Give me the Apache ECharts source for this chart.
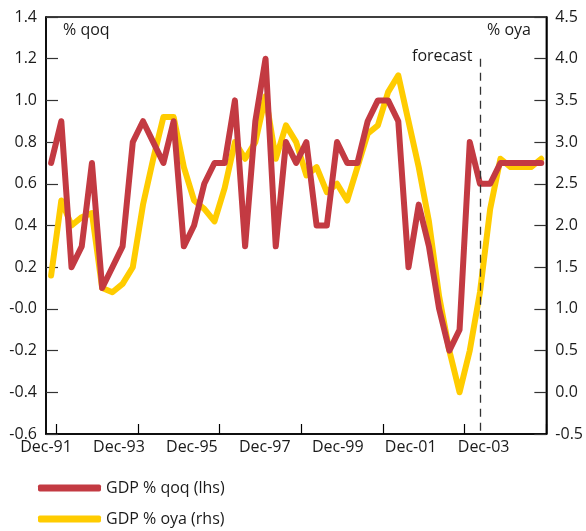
<!DOCTYPE html>
<html>
<head>
<meta charset="utf-8">
<script src="https://cdn.jsdelivr.net/npm/echarts@6/dist/echarts.min.js"></script>
<style>
  html, body { margin: 0; padding: 0; background: #fff; }
  #chart { width: 586px; height: 531px; }
</style>
</head>
<body>
<div id="chart"></div>
<script>
// Quarterly periods, Dec-91 to Dec-03
const quarters = ['Dec-91','Mar-92','Jun-92','Sep-92','Dec-92','Mar-93','Jun-93','Sep-93',
  'Dec-93','Mar-94','Jun-94','Sep-94','Dec-94','Mar-95','Jun-95','Sep-95',
  'Dec-95','Mar-96','Jun-96','Sep-96','Dec-96','Mar-97','Jun-97','Sep-97',
  'Dec-97','Mar-98','Jun-98','Sep-98','Dec-98','Mar-99','Jun-99','Sep-99',
  'Dec-99','Mar-00','Jun-00','Sep-00','Dec-00','Mar-01','Jun-01','Sep-01',
  'Dec-01','Mar-02','Jun-02','Sep-02','Dec-02','Mar-03','Jun-03','Sep-03','Dec-03'];

// GDP % q/q (left axis)
const gdpQoq = [0.7,0.9,0.2,0.3,0.7,0.1,0.2,0.3,0.8,0.9,
  0.8,0.7,0.9,0.3,0.4,0.6,0.7,0.7,1.0,0.3,
  0.9,1.2,0.3,0.8,0.7,0.8,0.4,0.4,0.8,0.7,
  0.7,0.9,1.0,1.0,0.9,0.2,0.5,0.3,0.0,-0.2,
  -0.1,0.8,0.6,0.6,0.7,0.7,0.7,0.7,0.7];

// GDP % over year ago (right axis)
const gdpOya = [1.4,2.3,2.0,2.1,2.15,1.25,1.2,1.3,1.5,2.25,
  2.8,3.3,3.3,2.7,2.3,2.2,2.05,2.45,3.0,2.8,
  3.0,3.55,2.8,3.2,3.0,2.6,2.7,2.4,2.5,2.3,
  2.7,3.1,3.2,3.6,3.8,3.25,2.7,2.05,1.15,0.5,
  0.0,0.5,1.2,2.2,2.8,2.7,2.7,2.7,2.8];

// Bottom axis labels
const xLabels = ['Dec-91','Dec-93','Dec-95','Dec-97','Dec-99','Dec-01','Dec-03'];

const forecastStart = 'Jun-02';

const FONT = '"Open Sans", "DejaVu Sans", sans-serif';
const TXT = '#1a1a1a';
const RED = '#C33A42';
const YELLOW = '#FFCC00';

const chart = echarts.init(document.getElementById('chart'), null, { renderer: 'canvas' });

chart.setOption({
  animation: false,
  backgroundColor: '#fff',
  textStyle: { fontFamily: FONT },
  grid: {
    left: 46, right: 37, top: 17, bottom: 97,
    show: true, borderColor: '#000', borderWidth: 1.5, backgroundColor: 'transparent'
  },
  legend: {
    orient: 'vertical',
    left: 38, top: 480,
    padding: 0,
    itemWidth: 63, itemHeight: 7, itemGap: 15,
    icon: 'roundRect',
    data: ['GDP % qoq (lhs)', 'GDP % oya (rhs)'],
    textStyle: { fontFamily: FONT, fontSize: 16, color: TXT, lineHeight: 16 },
    selectedMode: false
  },
  xAxis: [
    {
      type: 'category',
      data: quarters,
      boundaryGap: true,
      position: 'bottom',
      axisLine: { show: true, onZero: false, lineStyle: { color: '#000', width: 1.5 } },
      axisTick: {
        show: true, inside: true, length: 10,
        interval: (i) => i % 8 === 1,
        lineStyle: { color: '#000', width: 1.2 }
      },
      axisLabel: { show: false },
      splitLine: { show: false }
    },
    {
      type: 'value',
      position: 'bottom',
      min: 0, max: 6.86, interval: 1,
      axisLine: { show: false, onZero: false },
      axisTick: { show: false },
      splitLine: { show: false },
      axisLabel: {
        show: true, margin: 5,
        fontFamily: FONT, fontSize: 16, color: TXT,
        showMinLabel: true, showMaxLabel: true,
        formatter: (v) => {
          const k = Math.round(v);
          return Math.abs(v - k) < 1e-6 && xLabels[k] ? xLabels[k] : '';
        }
      }
    }
  ],
  yAxis: [
    {
      type: 'value', position: 'left',
      min: -0.6, max: 1.4, interval: 0.2,
      axisLine: { show: true, onZero: false, lineStyle: { color: '#000', width: 1.5 } },
      axisTick: { show: true, inside: true, length: 12, lineStyle: { color: '#333', width: 1.2 } },
      splitLine: { show: false },
      axisLabel: {
        margin: 9, fontFamily: FONT, fontSize: 16, color: TXT,
        showMinLabel: true, showMaxLabel: true,
        formatter: (v) => Math.abs(v) < 1e-9 ? '-0.0' : v.toFixed(1)
      }
    },
    {
      type: 'value', position: 'right',
      min: -0.5, max: 4.5, interval: 0.5,
      axisLine: { show: true, onZero: false, lineStyle: { color: '#000', width: 1.5 } },
      axisTick: { show: true, inside: true, length: 12, lineStyle: { color: '#333', width: 1.2 } },
      splitLine: { show: false },
      axisLabel: {
        margin: 9, fontFamily: FONT, fontSize: 16, color: TXT,
        showMinLabel: true, showMaxLabel: true,
        formatter: (v) => Math.abs(v) < 1e-9 ? '0.0' : v.toFixed(1)
      }
    }
  ],
  series: [
    {
      name: 'GDP % oya (rhs)',
      type: 'line',
      xAxisIndex: 0, yAxisIndex: 1,
      data: gdpOya,
      symbol: 'none',
      color: YELLOW,
      lineStyle: { color: YELLOW, width: 6, cap: 'round', join: 'round' },
      z: 2
    },
    {
      name: 'GDP % qoq (lhs)',
      type: 'line',
      xAxisIndex: 0, yAxisIndex: 0,
      data: gdpQoq,
      symbol: 'none',
      color: RED,
      lineStyle: { color: RED, width: 6, cap: 'round', join: 'round' },
      z: 3,
      markLine: {
        silent: true,
        symbol: ['none', 'none'],
        label: { show: false },
        lineStyle: { color: '#333', width: 1.3, type: [8, 6] },
        data: [[
          { xAxis: forecastStart, yAxis: 1.2 },
          { xAxis: forecastStart, yAxis: -0.6 }
        ]]
      }
    }
  ],
  graphic: [
    { type: 'text', left: 63, top: 22, style: { text: '% qoq', font: '16px ' + FONT, fill: TXT } },
    { type: 'text', left: 487, top: 22, style: { text: '% oya', font: '16px ' + FONT, fill: TXT } },
    { type: 'text', left: 412, top: 48, style: { text: 'forecast', font: '16px ' + FONT, fill: TXT } }
  ]
});
</script>
</body>
</html>
